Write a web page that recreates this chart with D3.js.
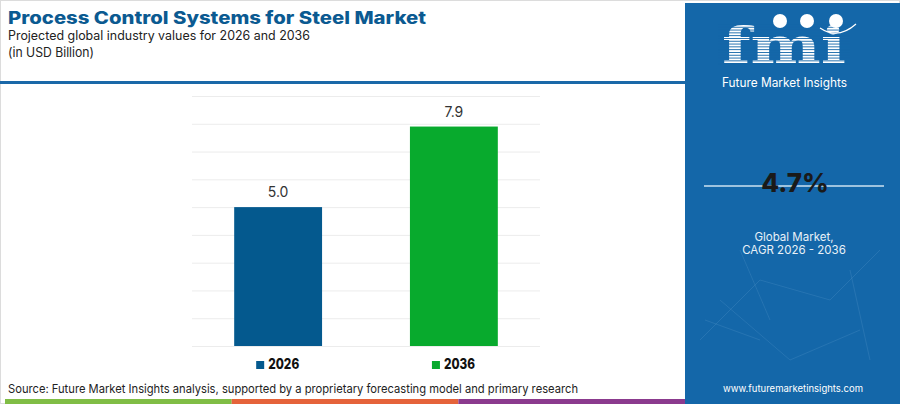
<!DOCTYPE html>
<html>
<head>
<meta charset="utf-8">
<script src="https://cdn.jsdelivr.net/npm/d3@7"></script>
<style>
  html, body { margin: 0; padding: 0; background: #fff; }
  svg { display: block; }
</style>
</head>
<body>
<svg id="chart" width="900" height="404" font-family="Inter, 'Open Sans', sans-serif"></svg>
<script>
// values
const years = ["2026", "2036"];
const values = [5.0, 7.9];
const barColors = ["#04598e", "#08aa2d"];
const yTicks = [0, 1, 2, 3, 4, 5, 6, 7, 8, 9];
const cagr = "4.7%";
const footerColors = ["#80bd45", "#e5633a", "#8b3a8e"];

const svg = d3.select("#chart");

// frame
svg.append("rect")
    .attr("x", 0.5).attr("y", 0.5)
    .attr("width", 899).attr("height", 403)
    .attr("fill", "#fff")
    .attr("stroke", "#dcdcdc");

// header
svg.append("text")
    .attr("x", 8).attr("y", 23.5)
    .attr("font-size", 17).attr("font-weight", 800)
    .attr("fill", "#0b5a91")
    .attr("textLength", 418).attr("lengthAdjust", "spacingAndGlyphs")
    .text("Process Control Systems for Steel Market");
svg.append("text")
    .attr("x", 8).attr("y", 39.5)
    .attr("font-size", 12.5).attr("fill", "#222")
    .attr("textLength", 302).attr("lengthAdjust", "spacingAndGlyphs")
    .text("Projected global industry values for 2026 and 2036");
svg.append("text")
    .attr("x", 8).attr("y", 57)
    .attr("font-size", 13).attr("fill", "#222")
    .attr("textLength", 86).attr("lengthAdjust", "spacingAndGlyphs")
    .text("(in USD Billion)");

svg.append("rect")
    .attr("x", 0).attr("y", 81)
    .attr("width", 686).attr("height", 3)
    .attr("fill", "#1a68a8");

// plot
const x = d3.scaleBand()
    .domain(years)
    .range([192, 540])
    .paddingInner(0.5)
    .paddingOuter(0.24);

const y = d3.scaleLinear()
    .domain([0, 9])
    .range([346, 96]);

const grid = svg.append("g")
    .attr("transform", "translate(192,0)")
    .call(d3.axisLeft(y).tickValues(yTicks).tickSize(-348).tickFormat(""));
grid.select(".domain").remove();
grid.selectAll("line").attr("stroke", "#ececec");

svg.selectAll("rect.bar")
    .data(values)
    .enter()
    .append("rect")
    .attr("class", "bar")
    .attr("x", (d, i) => x(years[i]))
    .attr("y", d => y(d))
    .attr("width", x.bandwidth())
    .attr("height", d => y(0) - y(d))
    .attr("fill", (d, i) => barColors[i]);

svg.selectAll("text.val")
    .data(values)
    .enter()
    .append("text")
    .attr("class", "val")
    .attr("x", (d, i) => x(years[i]) + x.bandwidth() / 2)
    .attr("y", d => y(d) - 10)
    .attr("text-anchor", "middle")
    .attr("font-size", 14).attr("fill", "#333")
    .text(d => d.toFixed(1));

// legend
const legend = svg.selectAll("g.leg")
    .data(years)
    .enter()
    .append("g")
    .attr("class", "leg")
    .attr("transform", (d, i) => `translate(${x(d) + 22},0)`);
legend.append("rect")
    .attr("x", 0).attr("y", 361)
    .attr("width", 8).attr("height", 8)
    .attr("fill", (d, i) => barColors[i]);
legend.append("text")
    .attr("x", 12).attr("y", 368.5)
    .attr("font-size", 14).attr("font-weight", 800)
    .attr("fill", "#111")
    .attr("textLength", 31).attr("lengthAdjust", "spacingAndGlyphs")
    .text(d => d);

// source
svg.append("text")
    .attr("x", 8).attr("y", 393)
    .attr("font-size", 12).attr("fill", "#222")
    .attr("textLength", 570).attr("lengthAdjust", "spacingAndGlyphs")
    .text("Source: Future Market Insights analysis, supported by a proprietary forecasting model and primary research");

// footer stripe
svg.selectAll("rect.foot")
    .data(footerColors)
    .enter()
    .append("rect")
    .attr("class", "foot")
    .attr("x", (d, i) => 5 + i * 226.7)
    .attr("y", 399)
    .attr("width", 226.7).attr("height", 5)
    .attr("fill", d => d);

// right panel
const panel = svg.append("g");
panel.append("rect")
    .attr("x", 685).attr("y", 3)
    .attr("width", 215).attr("height", 401)
    .attr("fill", "#1467a9");

// faint network lines in the background
const net = [[700, 340, 760, 280], [760, 280, 830, 300], [830, 300, 880, 250], [720, 300, 790, 360],
             [790, 360, 860, 330], [740, 250, 770, 320], [850, 270, 870, 360], [705, 320, 760, 340]];
panel.selectAll("line.net")
    .data(net)
    .enter()
    .append("line")
    .attr("x1", d => d[0]).attr("y1", d => d[1])
    .attr("x2", d => d[2]).attr("y2", d => d[3])
    .attr("stroke", "#5d9ccc").attr("stroke-opacity", 0.35).attr("stroke-width", 0.7);

// logo
panel.append("text")
    .attr("x", 784).attr("y", 63)
    .attr("text-anchor", "middle")
    .attr("font-family", "DejaVu Serif")
    .attr("font-size", 50).attr("font-weight", 700)
    .attr("fill", "#fff")
    .attr("textLength", 124).attr("lengthAdjust", "spacingAndGlyphs")
    .text("fmi");
// stripes across the letters
panel.selectAll("rect.stripe")
    .data(d3.range(0, 15))
    .enter()
    .append("rect")
    .attr("class", "stripe")
    .attr("x", 718).attr("y", d => 24 + d * 2.8)
    .attr("width", 132).attr("height", 0.9)
    .attr("fill", "#1467a9");
[780, 807, 836].forEach(cx => {
    panel.append("circle")
        .attr("cx", cx).attr("cy", 21).attr("r", 7)
        .attr("fill", "#fff");
});
panel.append("path")
    .attr("d", "M820,28 Q838,40 856,24")
    .attr("fill", "none").attr("stroke", "#fff").attr("stroke-width", 1.2);
panel.append("text")
    .attr("x", 722).attr("y", 87)
    .attr("font-size", 12.5).attr("fill", "#fff")
    .attr("textLength", 125).attr("lengthAdjust", "spacingAndGlyphs")
    .text("Future Market Insights");

// CAGR
panel.append("line")
    .attr("x1", 704).attr("x2", 884)
    .attr("y1", 186).attr("y2", 186)
    .attr("stroke", "#cde2f2").attr("stroke-width", 1.5);
panel.append("text")
    .attr("x", 795).attr("y", 192)
    .attr("text-anchor", "middle")
    .attr("font-size", 26).attr("font-weight", 800)
    .attr("fill", "#1a1a1a")
    .text(cagr);
panel.append("text")
    .attr("x", 794).attr("y", 241)
    .attr("text-anchor", "middle")
    .attr("font-size", 11.5).attr("fill", "#e8f1f8")
    .text("Global Market,");
panel.append("text")
    .attr("x", 794).attr("y", 254)
    .attr("text-anchor", "middle")
    .attr("font-size", 11.5).attr("fill", "#e8f1f8")
    .text("CAGR 2026 - 2036");

panel.append("text")
    .attr("x", 793).attr("y", 392)
    .attr("text-anchor", "middle")
    .attr("font-size", 9.5).attr("fill", "#fff")
    .text("www.futuremarketinsights.com");
</script>
</body>
</html>
